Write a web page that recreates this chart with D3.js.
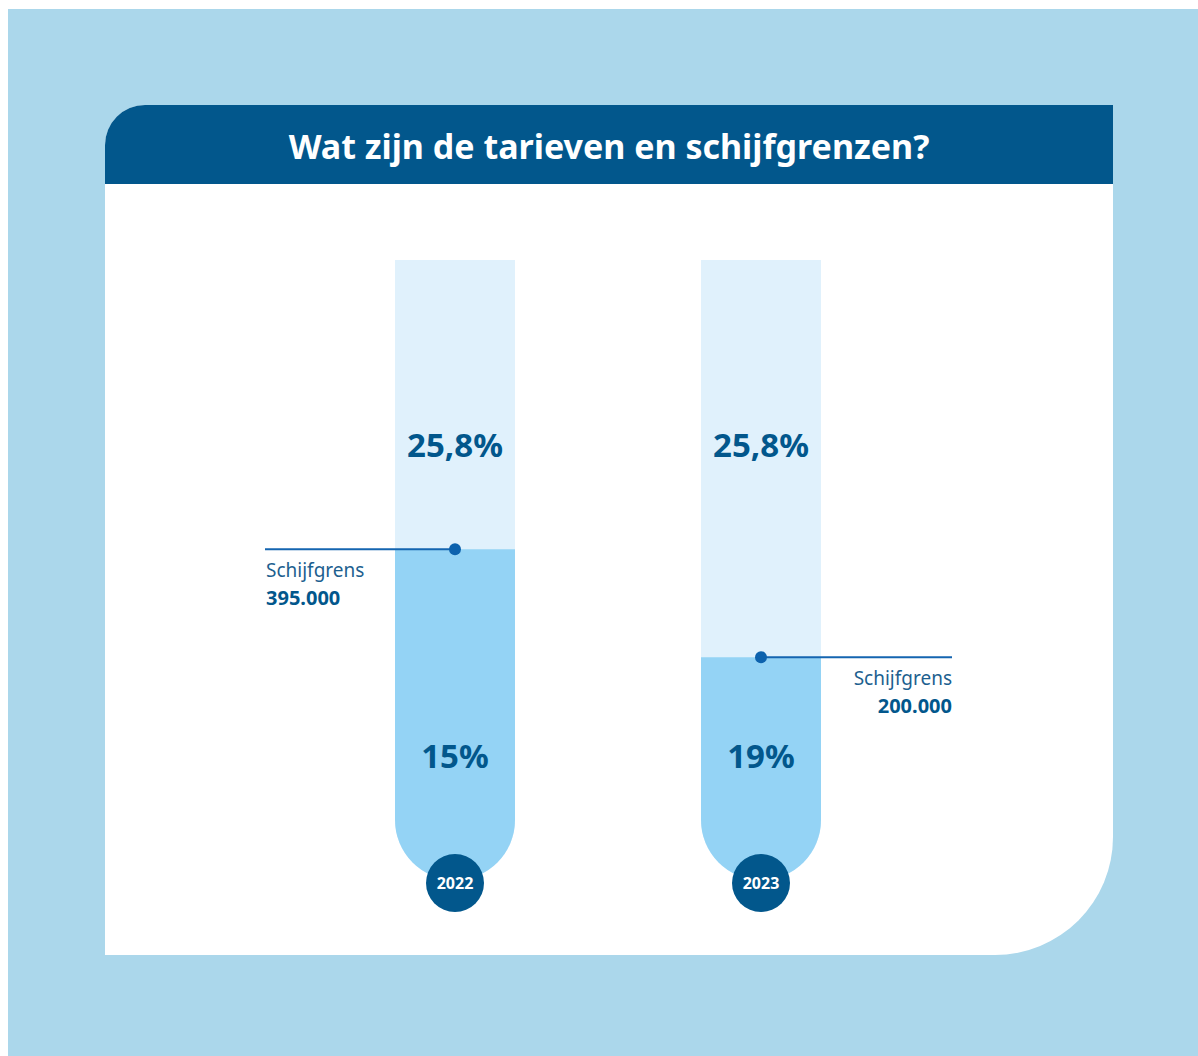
<!DOCTYPE html>
<html>
<head>
<meta charset="utf-8">
<script src="https://cdn.jsdelivr.net/npm/d3@7"></script>
<style>
  html, body { margin: 0; padding: 0; background: #fff; }
  svg { display: block; font-family: "Noto Sans", "Open Sans", sans-serif; }
</style>
</head>
<body>
<div id="chart"></div>
<script>
const title = "Wat zijn de tarieven en schijfgrenzen?";
const years = ["2022", "2023"];
const boundaries = [395000, 200000];
const lowRates = ["15%", "19%"];
const highRates = ["25,8%", "25,8%"];
const boundaryLabel = "Schijfgrens";

const width = 1198;
const height = 1056;
const card = { left: 105, top: 105, right: 1113, bottom: 955, header: 184 };
const tube = { top: 260, bottom: 880, width: 120 };

const svg = d3.select("#chart")
  .append("svg")
  .attr("width", width)
  .attr("height", height);

svg.append("rect")
  .attr("x", 8).attr("y", 9)
  .attr("width", width - 8).attr("height", height - 9)
  .attr("fill", "#abd7eb");

// card with rounded top-left and bottom-right corners
const r1 = 40, r2 = 118;
const cardPath = d3.path();
cardPath.moveTo(card.left + r1, card.top);
cardPath.lineTo(card.right, card.top);
cardPath.lineTo(card.right, card.bottom - r2);
cardPath.arcTo(card.right, card.bottom, card.right - r2, card.bottom, r2);
cardPath.lineTo(card.left, card.bottom);
cardPath.lineTo(card.left, card.top + r1);
cardPath.arcTo(card.left, card.top, card.left + r1, card.top, r1);
cardPath.closePath();
svg.append("path").attr("d", cardPath.toString()).attr("fill", "#fff");

const headPath = d3.path();
headPath.moveTo(card.left + r1, card.top);
headPath.lineTo(card.right, card.top);
headPath.lineTo(card.right, card.header);
headPath.lineTo(card.left, card.header);
headPath.lineTo(card.left, card.top + r1);
headPath.arcTo(card.left, card.top, card.left + r1, card.top, r1);
headPath.closePath();
svg.append("path").attr("d", headPath.toString()).attr("fill", "#02578c");

svg.append("text")
  .attr("x", (card.left + card.right) / 2)
  .attr("y", 159)
  .attr("text-anchor", "middle")
  .attr("fill", "#fff")
  .attr("font-size", 34)
  .attr("font-weight", 700)
  .text(title);

const x = d3.scaleBand().domain(years).range([302, 914]).paddingInner(0);
const y = d3.scaleLinear().domain([0, 917000]).range([768, tube.top]);

function tubePath(cx, top) {
  const r = tube.width / 2;
  const p = d3.path();
  const cy = tube.bottom - r;
  p.moveTo(cx - r, top);
  p.lineTo(cx + r, top);
  p.lineTo(cx + r, cy);
  p.arc(cx, cy, r, 0, Math.PI, false);
  p.closePath();
  return p.toString();
}

years.forEach((year, i) => {
  const cx = x(year) + x.bandwidth() / 2;
  const by = y(boundaries[i]);
  const g = svg.append("g");

  g.append("path").attr("d", tubePath(cx, tube.top)).attr("fill", "#e0f1fc");
  g.append("path").attr("d", tubePath(cx, by)).attr("fill", "#94d3f5");

  g.append("text")
    .attr("x", cx).attr("y", 457)
    .attr("text-anchor", "middle")
    .attr("fill", "#02578c")
    .attr("font-size", 33).attr("font-weight", 700)
    .text(highRates[i]);

  g.append("text")
    .attr("x", cx).attr("y", 768)
    .attr("text-anchor", "middle")
    .attr("fill", "#02578c")
    .attr("font-size", 33).attr("font-weight", 700)
    .text(lowRates[i]);

  g.append("circle").attr("cx", cx).attr("cy", 883).attr("r", 29).attr("fill", "#02578c");
  g.append("text")
    .attr("x", cx).attr("y", 889)
    .attr("text-anchor", "middle")
    .attr("fill", "#fff")
    .attr("font-size", 16).attr("font-weight", 700)
    .text(year);

  const left = i === 0;
  const lx = left ? 265 : 952;
  g.append("line")
    .attr("x1", lx).attr("x2", cx)
    .attr("y1", by).attr("y2", by)
    .attr("stroke", "#1465b0").attr("stroke-width", 2);
  g.append("circle").attr("cx", cx).attr("cy", by).attr("r", 6).attr("fill", "#0d62ad");

  const fmt = d3.format(",")(boundaries[i]).replace(/,/g, ".");
  g.append("text")
    .attr("x", left ? 266 : 952).attr("y", by + 28)
    .attr("text-anchor", left ? "start" : "end")
    .attr("fill", "#1d5f8f")
    .attr("font-size", 19)
    .text(boundaryLabel);
  g.append("text")
    .attr("x", left ? 266 : 952).attr("y", by + 56)
    .attr("text-anchor", left ? "start" : "end")
    .attr("fill", "#02578c")
    .attr("font-size", 20).attr("font-weight", 700)
    .text(fmt);
});
</script>
</body>
</html>
